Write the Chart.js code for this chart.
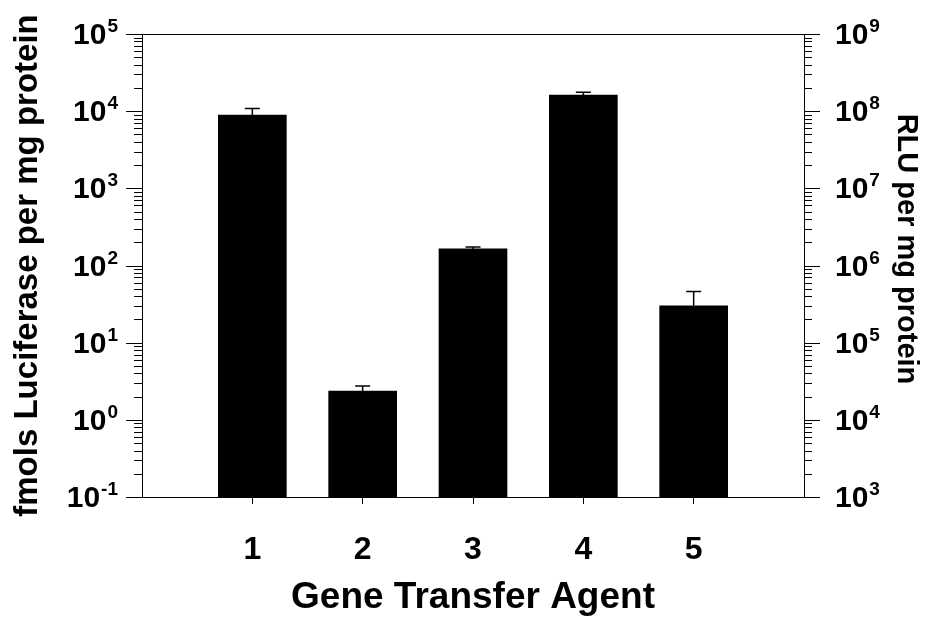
<!DOCTYPE html>
<html>
<head>
<meta charset="utf-8">
<script src="https://cdn.jsdelivr.net/npm/chart.js@4.4.1/dist/chart.umd.min.js"></script>
<style>
  html, body { margin: 0; padding: 0; background: #fff; }
  #wrap { width: 929px; height: 619px; }
</style>
</head>
<body>
<div id="wrap"><canvas id="chart" width="929" height="619"></canvas></div>
<script>
// Gene transfer agents on the x axis
const agents = ['1', '2', '3', '4', '5'];
// Luciferase expression, fmols per mg protein (bar heights)
const fmolsMean = [8900, 2.35, 164, 16200, 30];
// Upper error (added to the mean)
const fmolsErrUp = [1900, 0.4, 10, 1400, 16];
// Decade exponents for the two log axes
const leftExponents = [-1, 0, 1, 2, 3, 4, 5];
const rightExponents = [3, 4, 5, 6, 7, 8, 9];

const FONT = '"Liberation Sans", Arial, Helvetica, sans-serif';

// Category slots with an empty slot on each side of the five agents
const slotLabels = ['', ...agents, ''];
const slotValues = [null, ...fmolsMean, null];

function drawPower(ctx, exp, x, y, align) {
  const baseFont = 'bold 30px ' + FONT;
  const expFont = 'bold 19px ' + FONT;
  const base = '10';
  const sup = String(exp);
  ctx.font = baseFont;
  const wb = ctx.measureText(base).width;
  ctx.font = expFont;
  const we = ctx.measureText(sup).width;
  const x0 = align === 'right' ? x - wb - we - 1 : x;
  const baseline = y + 10;
  ctx.textAlign = 'left';
  ctx.textBaseline = 'alphabetic';
  ctx.font = baseFont;
  ctx.fillText(base, x0, baseline);
  ctx.font = expFont;
  ctx.fillText(sup, x0 + wb + 1, baseline - 12);
}

function drawLogTicks(ctx, scale, exps, side) {
  const edge = side === 'left' ? scale.right : scale.left;
  const dir = side === 'left' ? -1 : 1;
  ctx.strokeStyle = '#000';
  ctx.lineWidth = 1;
  for (let i = 0; i < exps.length; i++) {
    const e = exps[i];
    const py = Math.round(scale.getPixelForValue(Math.pow(10, e))) + 0.5;
    ctx.beginPath();
    ctx.moveTo(edge, py);
    ctx.lineTo(edge + dir * 16, py);
    ctx.stroke();
    if (i < exps.length - 1) {
      for (let m = 2; m <= 9; m++) {
        const my = Math.round(scale.getPixelForValue(m * Math.pow(10, e))) + 0.5;
        ctx.beginPath();
        ctx.moveTo(edge, my);
        ctx.lineTo(edge + dir * 8, my);
        ctx.stroke();
      }
    }
    ctx.fillStyle = '#000';
    if (side === 'left') {
      drawPower(ctx, e, edge - 24, scale.getPixelForValue(Math.pow(10, e)), 'right');
    } else {
      drawPower(ctx, e, edge + 31, scale.getPixelForValue(Math.pow(10, e)), 'left');
    }
  }
}

const decorPlugin = {
  id: 'decor',
  afterDatasetsDraw(chart) {
    const ctx = chart.ctx;
    const xs = chart.scales.x;
    const ys = chart.scales.y;
    ctx.save();
    ctx.strokeStyle = '#000';
    ctx.lineWidth = 1.5;
    fmolsMean.forEach((v, i) => {
      const px = xs.getPixelForValue(i + 1);
      const y0 = ys.getPixelForValue(v);
      const y1 = ys.getPixelForValue(v + fmolsErrUp[i]);
      ctx.beginPath();
      ctx.moveTo(px, y0);
      ctx.lineTo(px, y1);
      ctx.moveTo(px - 7.5, y1);
      ctx.lineTo(px + 7.5, y1);
      ctx.stroke();
    });
    ctx.restore();
  },
  afterDraw(chart) {
    const ctx = chart.ctx;
    const a = chart.chartArea;
    ctx.save();
    ctx.strokeStyle = '#000';
    ctx.lineWidth = 1;
    ctx.beginPath();
    ctx.moveTo(a.left, Math.round(a.top) + 0.5);
    ctx.lineTo(a.right, Math.round(a.top) + 0.5);
    ctx.stroke();
    drawLogTicks(ctx, chart.scales.y, leftExponents, 'left');
    drawLogTicks(ctx, chart.scales.y2, rightExponents, 'right');

    // right-hand axis title
    ctx.fillStyle = '#000';
    ctx.font = 'bold 29px ' + FONT;
    ctx.textAlign = 'center';
    ctx.textBaseline = 'middle';
    ctx.translate(906, 249);
    ctx.rotate(Math.PI / 2);
    ctx.fillText('RLU per mg protein', 0, 0);
    ctx.restore();
  }
};

new Chart(document.getElementById('chart'), {
  type: 'bar',
  data: {
    labels: slotLabels,
    datasets: [{
      data: slotValues,
      backgroundColor: '#000',
      borderWidth: 0,
      barThickness: 68,
      yAxisID: 'y'
    }]
  },
  options: {
    responsive: false,
    animation: false,
    devicePixelRatio: 1,
    layout: { padding: { top: 34, left: 0, right: 0, bottom: 0 } },
    plugins: { legend: { display: false }, tooltip: { enabled: false } },
    scales: {
      x: {
        offset: false,
        grid: {
          offset: false,
          drawOnChartArea: false,
          drawTicks: true,
          tickLength: 7,
          tickWidth: 1,
          tickColor: (c) => (c.index === 0 || c.index === slotLabels.length - 1) ? 'rgba(0,0,0,0)' : '#000'
        },
        border: { color: '#000', width: 1 },
        ticks: {
          color: '#000',
          autoSkip: false,
          maxRotation: 0,
          padding: 27,
          font: { family: FONT, weight: 'bold', size: 32 }
        },
        title: {
          display: true,
          text: 'Gene Transfer Agent',
          color: '#000',
          font: { family: FONT, weight: 'bold', size: 37, lineHeight: 1 },
          padding: { top: 0, bottom: 3 }
        },
        afterFit(s) { s.height = 122; }
      },
      y: {
        type: 'logarithmic',
        position: 'left',
        min: 0.1,
        max: 100000,
        grid: { display: false },
        border: { color: '#000', width: 1 },
        ticks: { display: false },
        title: {
          display: true,
          text: 'fmols Luciferase per mg protein',
          color: '#000',
          font: { family: FONT, weight: 'bold', size: 33, lineHeight: 1 },
          padding: { top: 11, bottom: 0 }
        },
        afterFit(s) { s.width = 142; }
      },
      y2: {
        type: 'logarithmic',
        position: 'right',
        min: 1000,
        max: 1000000000,
        grid: { display: false },
        border: { color: '#000', width: 1 },
        ticks: { display: false },
        afterFit(s) { s.width = 125; }
      }
    }
  },
  plugins: [decorPlugin]
});
</script>
</body>
</html>
